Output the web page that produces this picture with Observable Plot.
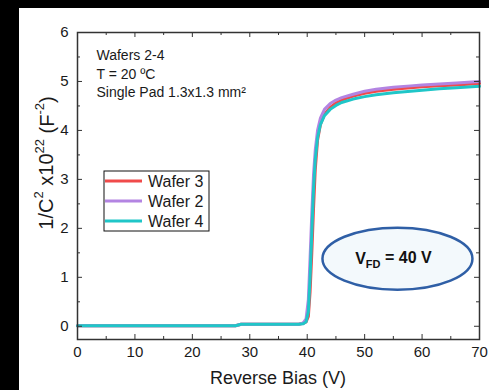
<!DOCTYPE html>
<html><head><meta charset="utf-8">
<script src="https://cdn.jsdelivr.net/npm/d3@7"></script>
<script src="https://cdn.jsdelivr.net/npm/@observablehq/plot@0.6"></script>
<style>
html,body{margin:0;padding:0;background:#000;}
#chart{position:absolute;left:19px;top:8px;width:470px;height:382px;background:#fff;overflow:hidden;}
</style></head><body><div id="chart"></div>
<script>
// Reverse bias (V)
const biasV  = [0,5,10,15,20,25,27.5,28.5,30,35,38.5,39.3,39.8,40.2,40.5,40.8,41.1,41.4,41.8,42.3,43,44,45,46,48,50,52,55,58,60,63,66,70];
// 1/C^2 x 10^22 (F^-2)
const wafer3 = [0.01,0.01,0.01,0.01,0.01,0.01,0.01,0.04,0.04,0.04,0.04,0.06,0.09,0.2,0.7,1.5,2.4,3.2,3.8,4.12,4.33,4.47,4.56,4.62,4.70,4.76,4.80,4.84,4.87,4.89,4.91,4.93,4.96];
const wafer2 = [0.01,0.01,0.01,0.01,0.01,0.01,0.01,0.04,0.04,0.04,0.04,0.07,0.15,0.55,1.4,2.3,3.1,3.6,4.0,4.25,4.43,4.55,4.62,4.67,4.74,4.80,4.84,4.88,4.91,4.93,4.95,4.97,5.00];
const wafer4 = [0.01,0.01,0.01,0.01,0.01,0.01,0.01,0.04,0.04,0.04,0.04,0.05,0.09,0.3,1.0,1.9,2.8,3.4,3.85,4.12,4.30,4.43,4.51,4.57,4.64,4.69,4.73,4.77,4.80,4.82,4.85,4.87,4.90];
const seriesNames  = ["Wafer 3","Wafer 2","Wafer 4"];
const seriesValues = [wafer3, wafer2, wafer4];
const seriesColors = ["#f04a4a","#b384e2","#1fc6c8"];
const xMajorTicks = [0,10,20,30,40,50,60,70];
const xMinorTicks = [5,15,25,35,45,55,65];
const yMajorTicks = [0,1,2,3,4,5,6];
const yMinorTicks = [0.5,1.5,2.5,3.5,4.5,5.5];
const infoLines = ["Wafers 2-4","T = 20 ºC","Single Pad 1.3x1.3 mm²"];
const vfdX = 55.8, vfdY = 1.37; // annotation anchor (data units)

const rows = seriesNames.flatMap((name, i) => biasV.map((v, j) => ({v, c: seriesValues[i][j], name})));
const font = "'Liberation Sans', Arial, sans-serif";

const W = 470, H = 382, mL = 58, mR = 10, mT = 24, mB = 51;
const fw = W - mL - mR, fh = H - mT - mB;
const tickStyle = {stroke: "#333", strokeWidth: 1};

const plot = Plot.plot({
  width: W, height: H,
  marginLeft: mL, marginRight: mR, marginTop: mT, marginBottom: mB,
  style: {fontFamily: font, fontSize: "15px", background: "white", color: "#1a1a1a", overflow: "visible"},
  x: {domain: [0, 70]},
  y: {domain: [-0.27, 6]},
  color: {domain: seriesNames, range: seriesColors},
  marks: [
    Plot.line(rows, {x: "v", y: "c", z: "name", stroke: "name", strokeWidth: 3}),
    // inward ticks on all four sides
    Plot.ruleX(xMajorTicks, {x: d => d, insetTop: fh - 5, ...tickStyle}),
    Plot.ruleX(xMinorTicks, {x: d => d, insetTop: fh - 3, ...tickStyle}),
    Plot.ruleX(xMajorTicks, {x: d => d, insetBottom: fh - 5, ...tickStyle}),
    Plot.ruleX(xMinorTicks, {x: d => d, insetBottom: fh - 3, ...tickStyle}),
    Plot.ruleY(yMajorTicks, {y: d => d, insetRight: fw - 5, ...tickStyle}),
    Plot.ruleY(yMinorTicks, {y: d => d, insetRight: fw - 3, ...tickStyle}),
    Plot.ruleY(yMajorTicks, {y: d => d, insetLeft: fw - 5, ...tickStyle}),
    Plot.ruleY(yMinorTicks, {y: d => d, insetLeft: fw - 3, ...tickStyle}),
    Plot.frame({stroke: "#333", strokeWidth: 1.5}),
    Plot.axisX(xMajorTicks, {anchor: "bottom", tickSize: 0, tickPadding: 7, label: null}),
    Plot.axisY(yMajorTicks, {anchor: "left", tickSize: 0, tickPadding: 9, label: null}),
    Plot.text([infoLines.join("\n")], {frameAnchor: "top-left", dx: 19, dy: 15, lineAnchor: "top", lineHeight: 1.3, fontSize: 14, textAnchor: "start", fill: "#1a1a1a"})
  ]
});
document.getElementById("chart").appendChild(plot);

const svg = d3.select(plot);
const sx = plot.scale("x"), sy = plot.scale("y");

// x-axis title
svg.append("text").attr("x", 259).attr("y", 376).attr("text-anchor", "middle")
  .attr("font-family", font).attr("font-size", 18).attr("fill", "#1a1a1a").text("Reverse Bias (V)");

// y-axis title with superscripts
const yt = svg.append("text").attr("transform", "translate(34,155) rotate(-90)")
  .attr("text-anchor", "middle").attr("font-family", font).attr("font-size", 20).attr("fill", "#1a1a1a");
const parts = [["1/C", false], ["2", true], [" x10", false], ["22", true], [" (F", false], ["-2", true], [")", false]];
parts.forEach(([t, sup], i) => {
  const ts = yt.append("tspan").text(t);
  if (sup) ts.attr("font-size", 13).attr("dy", "-0.75em");
  else if (i > 0) ts.attr("dy", "0.5em");
});

// legend
const lg = svg.append("g").attr("transform", "translate(85,163)");
lg.append("rect").attr("width", 105).attr("height", 60).attr("fill", "white").attr("stroke", "#111").attr("stroke-width", 1);
seriesNames.forEach((name, i) => {
  const y = 10 + i * 20;
  lg.append("line").attr("x1", 1).attr("x2", 38).attr("y1", y).attr("y2", y).attr("stroke", seriesColors[i]).attr("stroke-width", 3);
  lg.append("text").attr("x", 44).attr("y", y + 5.5).attr("text-anchor", "start").attr("font-family", font).attr("font-size", 16).attr("fill", "#1a1a1a").text(name);
});

// V_FD ellipse
const cx = sx.apply(vfdX), cy = sy.apply(vfdY);
svg.append("ellipse").attr("cx", cx).attr("cy", cy).attr("rx", 75).attr("ry", 31)
  .attr("fill", "#f3f9fc").attr("stroke", "#2f5fa6").attr("stroke-width", 2.5);
const vt = svg.append("text").attr("x", cx - 4).attr("y", cy + 5.5).attr("text-anchor", "middle")
  .attr("font-family", font).attr("font-size", 16).attr("font-weight", "bold").attr("fill", "#111");
vt.append("tspan").text("V");
vt.append("tspan").attr("font-size", 11).attr("dy", "0.3em").text("FD");
vt.append("tspan").attr("dy", "-0.3em").text(" = 40 V");
</script></body></html>
